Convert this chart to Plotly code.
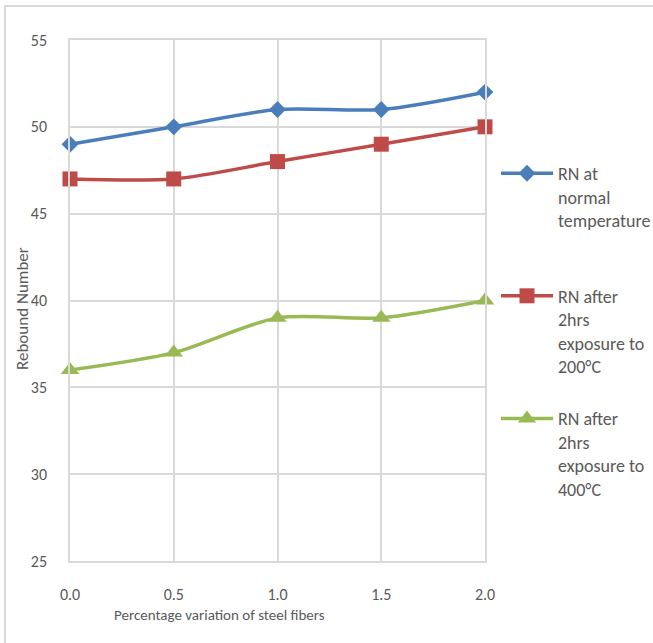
import plotly.graph_objects as go

x_vals = [0.0, 0.5, 1.0, 1.5, 2.0]
rn_normal = [49, 50, 51, 51, 52]
rn_200 = [47, 47, 48, 49, 50]
rn_400 = [36, 37, 39, 39, 40]

names = ["RN at<br>normal<br>temperature<br> ",
         "RN after<br>2hrs<br>exposure to<br>200°C",
         "RN after<br>2hrs<br>exposure to<br>400°C"]
colors = ["#4A7EBB", "#BE4B48", "#98B954"]
symbols = ["diamond", "square", "triangle-up"]
sizes = [13, 15, 16]
series = [rn_normal, rn_200, rn_400]

FONT = "Carlito, Lato, sans-serif"
TXT = "#595959"
GRID = "#D9D9D9"

fig = go.Figure()
for i, (ys, nm) in enumerate(zip(series, names)):
    fig.add_trace(go.Scatter(
        x=x_vals, y=ys, name=nm, mode="lines+markers",
        line=dict(color=colors[i], width=3.5, shape="spline", smoothing=0.8),
        marker=dict(symbol=symbols[i], size=sizes[i], color=colors[i]),
        cliponaxis=False, legendgroup=f"g{i}",
    ))

W, H = 653, 643
L, R, T, B = 70, 168, 40, 82
pw, ph = W - L - R, H - T - B

def px(xp):
    return (xp - L) / pw

def py(yp):
    return (H - B - yp) / ph

fig.update_layout(
    width=W, height=H,
    margin=dict(l=L, r=R, t=T, b=B, autoexpand=False),
    paper_bgcolor="white", plot_bgcolor="white",
    font=dict(family=FONT, size=16, color=TXT),
    showlegend=True,
    legend=dict(
        x=px(496), y=py(155), xanchor="left", yanchor="top",
        valign="top", traceorder="grouped", tracegroupgap=26,
        font=dict(family=FONT, size=18, color=TXT),
        bgcolor="rgba(0,0,0,0)", itemwidth=52,
    ),
    xaxis=dict(
        range=[0, 2], tickvals=x_vals, ticktext=[f"{v:.1f}" for v in x_vals],
        showgrid=True, gridcolor=GRID, gridwidth=1.5,
        showline=True, linecolor=GRID, linewidth=1.5, mirror=True,
        ticks="outside", ticklen=18, tickcolor="rgba(0,0,0,0)",
        zeroline=False, tickfont=dict(size=16, color=TXT),
    ),
    yaxis=dict(
        range=[25, 55], dtick=5,
        showgrid=True, gridcolor=GRID, gridwidth=1.5,
        showline=True, linecolor=GRID, linewidth=1.5, mirror=True,
        ticks="outside", ticklen=18, tickcolor="rgba(0,0,0,0)",
        zeroline=False, tickfont=dict(size=16, color=TXT),
    ),
    annotations=[
        dict(text="Percentage variation of steel fibers", xref="paper", yref="paper",
             x=px(219), y=py(615), xanchor="center", yanchor="middle",
             showarrow=False, font=dict(size=15, color=TXT)),
        dict(text="Rebound Number", xref="paper", yref="paper",
             x=px(22), y=py(309), xanchor="center", yanchor="middle", textangle=-90,
             showarrow=False, font=dict(size=17, color=TXT)),
    ],
    shapes=[
        dict(type="rect", xref="paper", yref="paper",
             x0=px(5), x1=px(670), y0=py(660), y1=py(6),
             line=dict(color=GRID, width=2), layer="below"),
    ],
)

fig.write_html("out.html")
